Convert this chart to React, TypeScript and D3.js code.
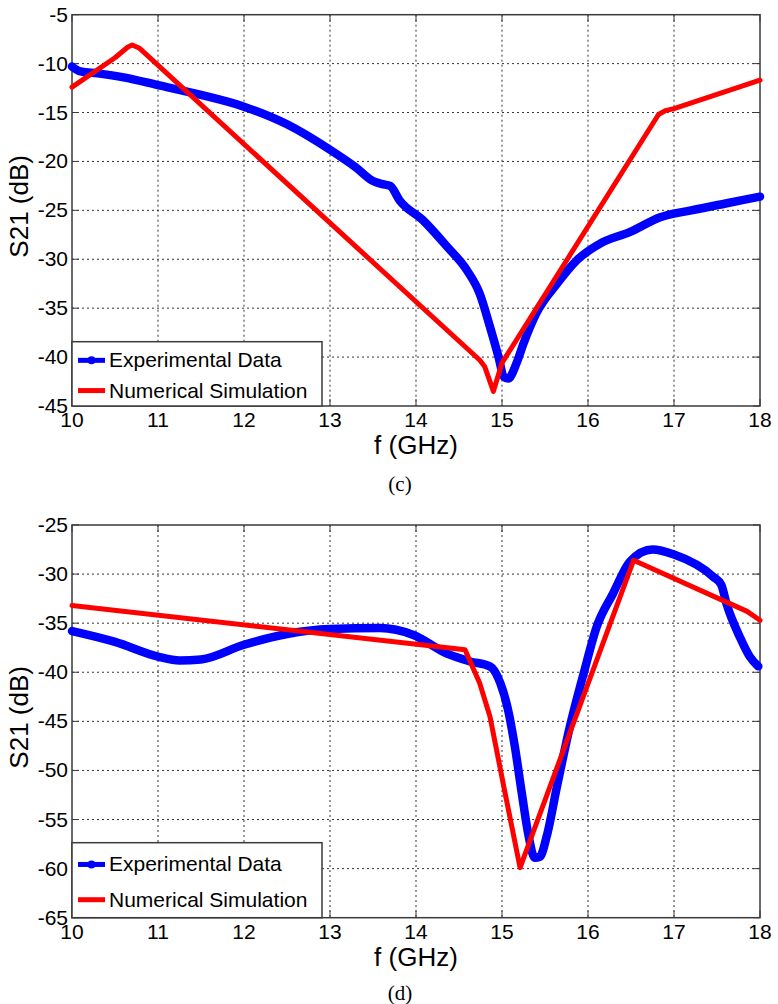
import React from "react";
import * as d3 from "d3";

// ---------- DATA ----------
const xTicks = [10, 11, 12, 13, 14, 15, 16, 17, 18];
const yTicksC = [-45, -40, -35, -30, -25, -20, -15, -10, -5];
const yTicksD = [-65, -60, -55, -50, -45, -40, -35, -30, -25];

const expC_f = [10, 10.1, 10.3, 10.6, 11, 11.5, 12, 12.5, 13, 13.3, 13.5, 13.6, 13.7, 13.81, 14.08, 14.36, 14.59, 14.74, 14.86, 14.96, 15.02, 15.07, 15.17, 15.25, 15.4, 15.64, 15.87, 16.14, 16.49, 16.84, 17.2, 17.6, 18];
const expC_v = [-10.3, -10.8, -11.0, -11.4, -12.2, -13.2, -14.4, -16.2, -18.8, -20.6, -22.0, -22.3, -22.5, -24.0, -26.0, -28.7, -31.1, -33.5, -36.9, -40.0, -42.0, -42.2, -40.6, -38.6, -35.5, -32.5, -30.1, -28.4, -27.2, -25.7, -25.0, -24.3, -23.6];

const simC_f = [10, 10.5, 10.65, 10.7, 10.78, 14.74, 14.8, 14.9, 15.0, 16.82, 16.9, 17.0, 18];
const simC_v = [-12.4, -9.4, -8.3, -8.1, -8.4, -40.3, -41.0, -43.5, -40.6, -15.2, -14.8, -14.6, -11.7];

const expD_f = [10, 10.5, 11, 11.25, 11.5, 12, 12.5, 13, 13.58, 13.97, 14.36, 14.63, 14.86, 14.98, 15.07, 15.15, 15.23, 15.31, 15.38, 15.44, 15.52, 15.64, 15.79, 15.95, 16.1, 16.29, 16.49, 16.75, 17.0, 17.46, 17.55, 17.61, 17.77, 17.88, 17.98];
const expD_v = [-35.8, -36.9, -38.4, -38.8, -38.7, -37.2, -36.1, -35.6, -35.5, -36.2, -38.1, -38.9, -39.4, -41.1, -43.8, -47.6, -52.3, -56.7, -58.9, -58.8, -56.7, -51.6, -45.5, -40.1, -35.4, -32.0, -28.7, -27.5, -28.0, -30.3, -31.1, -33.0, -36.5, -38.4, -39.4];

const simD_f = [10, 14.47, 14.57, 14.74, 14.86, 15.02, 15.21, 16.53, 17.85, 18];
const simD_v = [-33.2, -37.6, -37.7, -41.1, -44.5, -51.6, -59.9, -28.6, -33.8, -34.7];

const legendLabels = ["Experimental Data", "Numerical Simulation"];
const xLabel = "f (GHz)";
const yLabel = "S21 (dB)";

const SANS = "'Liberation Sans', Arial, Helvetica, sans-serif";
const SERIF = "'Liberation Serif', 'Times New Roman', serif";

type PanelProps = {
  top: number;
  bottom: number;
  yTicks: number[];
  expF: number[];
  expV: number[];
  simF: number[];
  simV: number[];
  legendTop: number;
  caption: string;
  captionY: number;
};

const LEFT = 72;
const RIGHT = 760;

function Panel(p: PanelProps) {
  const x = d3.scaleLinear().domain([10, 18]).range([LEFT, RIGHT]);
  const y = d3
    .scaleLinear()
    .domain([p.yTicks[0], p.yTicks[p.yTicks.length - 1]])
    .range([p.bottom, p.top]);
  const smooth = d3
    .line<number>()
    .x((_, i) => x(p.expF[i]))
    .y((v) => y(v))
    .curve(d3.curveMonotoneX);
  const lin = d3
    .line<number>()
    .x((_, i) => x(p.simF[i]))
    .y((v) => y(v))
    .curve(d3.curveLinear);
  const tl = 7;
  const legBottom = p.bottom;
  const legH = legBottom - p.legendTop;
  const row1 = p.legendTop + legH * 0.29;
  const row2 = p.legendTop + legH * 0.76;
  const axisColor = "#3a3a3a";
  const cy = (p.top + p.bottom) / 2 - 4;
  return (
    <g>
      {/* grid */}
      {xTicks.slice(1, -1).map((t) => (
        <line key={"gx" + t} x1={x(t)} x2={x(t)} y1={p.top} y2={p.bottom} stroke="#333" strokeWidth={1} strokeDasharray="2,3" />
      ))}
      {p.yTicks.slice(1, -1).map((t) => (
        <line key={"gy" + t} x1={LEFT} x2={RIGHT} y1={y(t)} y2={y(t)} stroke="#333" strokeWidth={1} strokeDasharray="2,3" />
      ))}
      {/* ticks */}
      {xTicks.map((t) => (
        <g key={"tx" + t}>
          <line x1={x(t)} x2={x(t)} y1={p.bottom} y2={p.bottom - tl} stroke={axisColor} />
          <line x1={x(t)} x2={x(t)} y1={p.top} y2={p.top + tl} stroke={axisColor} />
          <text x={x(t)} y={p.bottom + 21} textAnchor="middle" fontFamily={SANS} fontSize={21} fill="#000">
            {t}
          </text>
        </g>
      ))}
      {p.yTicks.map((t) => (
        <g key={"ty" + t}>
          <line x1={LEFT} x2={LEFT + tl} y1={y(t)} y2={y(t)} stroke={axisColor} />
          <line x1={RIGHT} x2={RIGHT - tl} y1={y(t)} y2={y(t)} stroke={axisColor} />
          <text x={68} y={y(t) + 7} textAnchor="end" fontFamily={SANS} fontSize={21} fill="#000">
            {t}
          </text>
        </g>
      ))}
      {/* box */}
      <rect x={LEFT} y={p.top} width={RIGHT - LEFT} height={p.bottom - p.top} fill="none" stroke={axisColor} strokeWidth={1.5} />
      {/* data */}
      <path d={smooth(p.expV) || ""} fill="none" stroke="#0000ff" strokeWidth={8.5} strokeLinejoin="round" strokeLinecap="round" />
      <path d={lin(p.simV) || ""} fill="none" stroke="#ff0000" strokeWidth={5} strokeLinejoin="round" strokeLinecap="round" />
      {/* legend */}
      <rect x={LEFT} y={p.legendTop} width={250} height={legH} fill="#fff" stroke={axisColor} strokeWidth={1.5} />
      <line x1={78} x2={105} y1={row1} y2={row1} stroke="#0000ff" strokeWidth={5} />
      <circle cx={91.5} cy={row1} r={4} fill="#0000ff" />
      <text x={109} y={row1 + 7} fontFamily={SANS} fontSize={21} fill="#000">
        {legendLabels[0]}
      </text>
      <line x1={78} x2={105} y1={row2} y2={row2} stroke="#ff0000" strokeWidth={5} />
      <text x={109} y={row2 + 7} fontFamily={SANS} fontSize={21} fill="#000">
        {legendLabels[1]}
      </text>
      {/* labels */}
      <text x={(LEFT + RIGHT) / 2} y={p.bottom + 48} textAnchor="middle" fontFamily={SANS} fontSize={26} fill="#000">
        {xLabel}
      </text>
      <text transform={`translate(28,${cy}) rotate(-90)`} textAnchor="middle" fontFamily={SANS} fontSize={26} fill="#000">
        {yLabel}
      </text>
      <text x={400} y={p.captionY} textAnchor="middle" fontFamily={SERIF} fontSize={21} fill="#000">
        {p.caption}
      </text>
    </g>
  );
}

export default function App() {
  return (
    <svg
      width={778}
      height={1004}
      viewBox="0 0 778 1004"
      style={{ position: "absolute", left: 0, top: 0, background: "#fff" }}
    >
      <rect x={0} y={0} width={778} height={1004} fill="#fff" />
      <Panel
        top={14.7}
        bottom={406}
        yTicks={yTicksC}
        expF={expC_f}
        expV={expC_v}
        simF={simC_f}
        simV={simC_v}
        legendTop={341.7}
        caption="(c)"
        captionY={491}
      />
      <Panel
        top={525}
        bottom={917.7}
        yTicks={yTicksD}
        expF={expD_f}
        expV={expD_v}
        simF={simD_f}
        simV={simD_v}
        legendTop={842.7}
        caption="(d)"
        captionY={1000}
      />
    </svg>
  );
}
